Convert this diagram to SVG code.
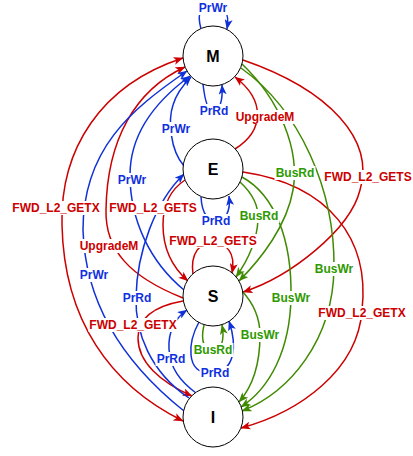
<svg xmlns="http://www.w3.org/2000/svg" width="413" height="456" viewBox="0 0 413 456">
<style>
.e{fill:none;stroke-width:1.5}
.r{stroke:#CC0000}
.b{stroke:#1030D8}
.g{stroke:#3F8A00}
.t{font-family:"Liberation Sans",Arial,sans-serif;font-weight:bold;font-size:12px;text-anchor:middle}
.tr{fill:#CC0000}
.tb{fill:#1030E0}
.tg{fill:#2E9A00}
.bg{fill:#ffffff}
.n{fill:#ffffff;stroke:#000000;stroke-width:1}
.nt{font-family:"Liberation Sans",Arial,sans-serif;font-weight:bold;font-size:16px;text-anchor:middle;fill:#000}
</style>
<defs>
<marker id="ar" viewBox="0 0 10 8" refX="9.5" refY="4" markerWidth="10" markerHeight="8" markerUnits="userSpaceOnUse" orient="auto-start-reverse"><path d="M0,0 L10,4 L0,8 L2.5,4 z" fill="#CC0000"/></marker>
<marker id="ab" viewBox="0 0 10 8" refX="9.5" refY="4" markerWidth="10" markerHeight="8" markerUnits="userSpaceOnUse" orient="auto"><path d="M0,0 L10,4 L0,8 L2.5,4 z" fill="#1030D8"/></marker>
<marker id="ag" viewBox="0 0 10 8" refX="9.5" refY="4" markerWidth="10" markerHeight="8" markerUnits="userSpaceOnUse" orient="auto"><path d="M0,0 L10,4 L0,8 L2.5,4 z" fill="#3F8A00"/></marker>
</defs>
<g id="connectors">
<path class="e r" marker-start="url(#ar)" marker-end="url(#ar)" d="M183,58 C100,85 60,150 62,225 C64,320 110,385 183,421"/>
<path class="e r" marker-end="url(#ar)" d="M183,298 C130,277 105,250 106,210 C107,140 135,90 185,67"/>
<path class="e r" marker-end="url(#ar)" d="M235,149 C265,130 265,100 235,77"/>
<path class="e r" marker-end="url(#ar)" d="M243,60 C330,90 375,140 360,190 C350,230 290,277 243,292"/>
<path class="e r" marker-end="url(#ar)" d="M243,172 C330,185 370,240 362,310 C358,370 300,412 241,428"/>
<path class="e r" marker-end="url(#ar)" d="M185,180 C170,190 163,205 163,225 C163,250 172,267 188,281"/>
<path class="e r" marker-end="url(#ar)" d="M183,301 C155,306 138,318 138,338 C138,362 160,382 192,396"/>
<path class="e r" marker-end="url(#ar)" d="M193,275 C190,252 200,243 213,243 C226,243 236,252 232,273"/>
<path class="e b" marker-end="url(#ab)" d="M184,411 C120,360 85,300 83,230 C83,150 130,110 187,71"/>
<path class="e b" marker-end="url(#ab)" d="M184,290 C150,262 130,220 130,175 C130,130 160,98 190,76"/>
<path class="e b" marker-end="url(#ab)" d="M184,166 C170,150 168,120 173,105 C176,95 183,85 191,77"/>
<path class="e b" marker-end="url(#ab)" d="M189,398 C150,372 135,332 136,297 C137,252 155,202 184,174"/>
<path class="e b" marker-end="url(#ab)" d="M196,393 C180,381 170,368 169,349 C168,332 175,318 187,310"/>
<path class="e b" marker-end="url(#ab)" d="M201,29 C196,10 202,6 213,6 C224,6 230,12 227,29"/>
<path class="e b" marker-end="url(#ab)" d="M203,84 C205,102 208,111 213,111 C220,111 223,100 222,85"/>
<path class="e b" marker-end="url(#ab)" d="M201,197 C202,215 209,221 216,221 C225,221 231,212 229,196"/>
<path class="e b" marker-end="url(#ab)" d="M199,322 C188,342 185,373 210,373 C236,373 237,345 229,321"/>
<path class="e g" marker-end="url(#ag)" d="M242,64 C280,100 300,150 293,190 C287,225 262,258 239,281"/>
<path class="e g" marker-end="url(#ag)" d="M240,182 C252,193 259,206 258,220 C257,240 248,260 236,277"/>
<path class="e g" marker-end="url(#ag)" d="M241,68 C300,110 335,190 334,268 C333,340 290,392 242,411"/>
<path class="e g" marker-end="url(#ag)" d="M242,177 C275,195 292,240 291,297 C290,350 270,388 241,407"/>
<path class="e g" marker-end="url(#ag)" d="M242,291 C255,305 260,320 260,335 C260,360 254,385 239,402"/>
<path class="e g" marker-end="url(#ag)" d="M204,325 C200,342 205,351 213,351 C221,351 225,340 222,325"/>
<g id="labels">
<rect class="bg" x="197.5" y="1" width="31" height="14"/><text class="t tb" x="213" y="12">PrWr</text>
<rect class="bg" x="198.5" y="104" width="31" height="14"/><text class="t tb" x="214" y="115">PrRd</text>
<rect class="bg" x="234.5" y="110" width="61" height="14"/><text class="t tr" x="265" y="121">UpgradeM</text>
<rect class="bg" x="160.5" y="122" width="31" height="14"/><text class="t tb" x="176" y="133">PrWr</text>
<rect class="bg" x="116.5" y="173" width="31" height="14"/><text class="t tb" x="132" y="184">PrWr</text>
<rect class="bg" x="200.5" y="214" width="31" height="14"/><text class="t tb" x="216" y="225">PrRd</text>
<rect class="bg" x="274.5" y="166" width="41" height="14"/><text class="t tg" x="295" y="177">BusRd</text>
<rect class="bg" x="323.5" y="170" width="89" height="14"/><text class="t tr" x="368" y="181">FWD_L2_GETS</text>
<rect class="bg" x="238.5" y="209" width="41" height="14"/><text class="t tg" x="259" y="220">BusRd</text>
<rect class="bg" x="11.5" y="201" width="89" height="14"/><text class="t tr" x="56" y="212">FWD_L2_GETX</text>
<rect class="bg" x="108.5" y="201" width="89" height="14"/><text class="t tr" x="153" y="212">FWD_L2_GETS</text>
<rect class="bg" x="168.5" y="234" width="89" height="14"/><text class="t tr" x="213" y="245">FWD_L2_GETS</text>
<rect class="bg" x="78.5" y="239" width="61" height="14"/><text class="t tr" x="109" y="250">UpgradeM</text>
<rect class="bg" x="78.5" y="268" width="31" height="14"/><text class="t tb" x="94" y="279">PrWr</text>
<rect class="bg" x="121.5" y="291" width="31" height="14"/><text class="t tb" x="137" y="302">PrRd</text>
<rect class="bg" x="88.5" y="318" width="89" height="14"/><text class="t tr" x="133" y="329">FWD_L2_GETX</text>
<rect class="bg" x="317.5" y="306" width="89" height="14"/><text class="t tr" x="362" y="317">FWD_L2_GETX</text>
<rect class="bg" x="155.5" y="352" width="31" height="14"/><text class="t tb" x="171" y="363">PrRd</text>
<rect class="bg" x="313.5" y="262" width="41" height="14"/><text class="t tg" x="334" y="273">BusWr</text>
<rect class="bg" x="270.5" y="291" width="41" height="14"/><text class="t tg" x="291" y="302">BusWr</text>
<rect class="bg" x="239.5" y="328" width="41" height="14"/><text class="t tg" x="260" y="339">BusWr</text>
<rect class="bg" x="192.5" y="343" width="41" height="14"/><text class="t tg" x="213" y="354">BusRd</text>
<rect class="bg" x="199.5" y="366" width="31" height="14"/><text class="t tb" x="215" y="377">PrRd</text>
</g>
</g>
<g id="node-M"><circle class="n" cx="213" cy="56" r="30"/><text class="nt" x="213" y="62">M</text></g>
<g id="node-E"><circle class="n" cx="213" cy="169" r="30"/><text class="nt" x="213" y="175">E</text></g>
<g id="node-S"><circle class="n" cx="213" cy="296" r="30"/><text class="nt" x="213" y="302">S</text></g>
<g id="node-I"><circle class="n" cx="213" cy="417" r="30"/><text class="nt" x="213" y="423">I</text></g>
</svg>
